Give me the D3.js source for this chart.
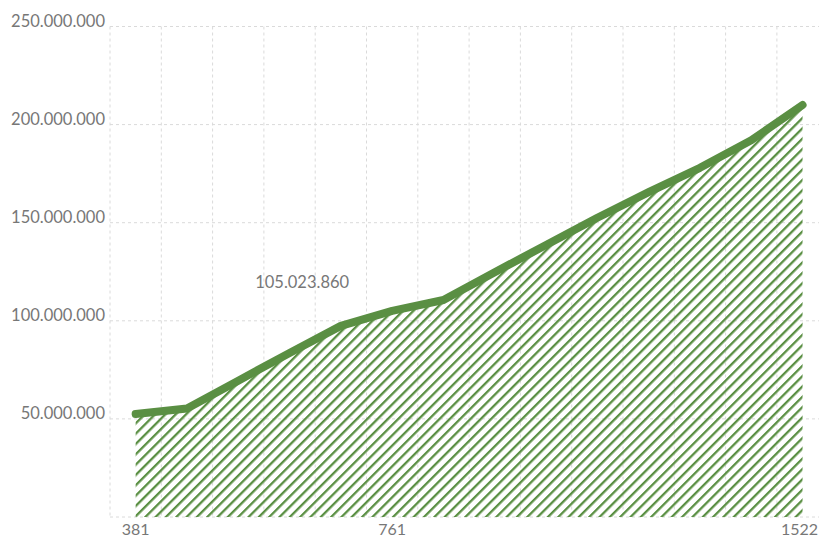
<!DOCTYPE html>
<html>
<head>
<meta charset="utf-8">
<script src="https://cdn.jsdelivr.net/npm/d3@7"></script>
<style>
  html, body { margin: 0; padding: 0; background: #fff; }
  svg { display: block; }
  text { font-family: Lato, "Open Sans", sans-serif; fill: #777; }
</style>
</head>
<body>
<svg id="chart" width="819" height="537"></svg>
<script>
// Cumulative totals per step
const steps = [0, 1, 2, 3, 4, 5, 6, 7, 8, 9, 10, 11, 12, 13];
const totals = [52500000, 55300000, 69500000, 83600000, 97400000, 105023860, 110600000,
                124800000, 138600000, 152500000, 165600000, 178000000, 192000000, 210000000];
// Only a few steps carry an axis label
const labelledSteps = [0, 5, 13];
const tickLabels = ["381", "761", "1522"];
const yTicks = [50000000, 100000000, 150000000, 200000000, 250000000];
const highlightStep = 5;

const W = 819;
const plotLeft = 110, plotTop = 26.5, plotBottom = 517;
const green = "#5a8f43";

const svg = d3.select("#chart");
const fmt = d3.formatLocale({ decimal: ",", thousands: ".", grouping: [3], currency: ["", ""] }).format(",d");

const x = d3.scaleBand().domain(steps).range([plotLeft, plotLeft + steps.length * 51.3]).padding(0);
const xc = d => x(d) + x.bandwidth() / 2;
const y = d3.scaleLinear().domain([0, 250000000]).range([plotBottom, plotTop]);

// Hatch pattern for the area
const hatchGap = 7.3;
const defs = svg.append("defs");
const pat = defs.append("pattern")
  .attr("id", "hatch")
  .attr("patternUnits", "userSpaceOnUse")
  .attr("width", hatchGap).attr("height", hatchGap)
  .attr("patternTransform", "rotate(45)");
pat.append("rect")
  .attr("x", 0).attr("y", 0).attr("width", 2.3).attr("height", hatchGap)
  .attr("fill", green);

// Grid
const grid = svg.append("g");
grid.selectAll("line.v").data(steps).join("line")
  .attr("class", "v")
  .attr("x1", d => x(d)).attr("x2", d => x(d))
  .attr("y1", plotTop).attr("y2", plotBottom)
  .attr("stroke", "#dadada").attr("stroke-dasharray", "3,3");
grid.selectAll("line.h").data([0].concat(yTicks)).join("line")
  .attr("class", "h")
  .attr("x1", plotLeft).attr("x2", W)
  .attr("y1", d => y(d)).attr("y2", d => y(d))
  .attr("stroke", "#dadada").attr("stroke-dasharray", "3,3");

// Y labels
svg.append("g").selectAll("text").data(yTicks).join("text")
  .attr("x", 105).attr("y", d => y(d) + 0.5)
  .attr("text-anchor", "end")
  .style("font-size", "16.5px")
  .text(d => fmt(d));

// X labels, kept inside the right edge
svg.append("g").selectAll("text").data(labelledSteps).join("text")
  .attr("y", 535)
  .attr("text-anchor", "middle")
  .style("font-size", "16px")
  .text((d, i) => tickLabels[i])
  .attr("x", function (d) {
    const half = this.getComputedTextLength() / 2;
    return Math.min(xc(d), W - 1 - half);
  });

// Area and line
const pts = steps.map((s, i) => [s, totals[i]]);
svg.append("path")
  .datum(pts)
  .attr("fill", "url(#hatch)")
  .attr("d", d3.area().x(d => xc(d[0])).y0(y(0)).y1(d => y(d[1])));
svg.append("path")
  .datum(pts)
  .attr("fill", "none")
  .attr("stroke", green)
  .attr("stroke-width", 8)
  .attr("stroke-linecap", "round")
  .attr("stroke-linejoin", "round")
  .attr("d", d3.line().x(d => xc(d[0])).y(d => y(d[1])));

// Value annotation
svg.append("text")
  .attr("x", xc(highlightStep) - 90)
  .attr("y", y(totals[highlightStep]) - 23)
  .attr("text-anchor", "middle")
  .style("font-size", "16.5px")
  .text(fmt(totals[highlightStep]));
</script>
</body>
</html>
